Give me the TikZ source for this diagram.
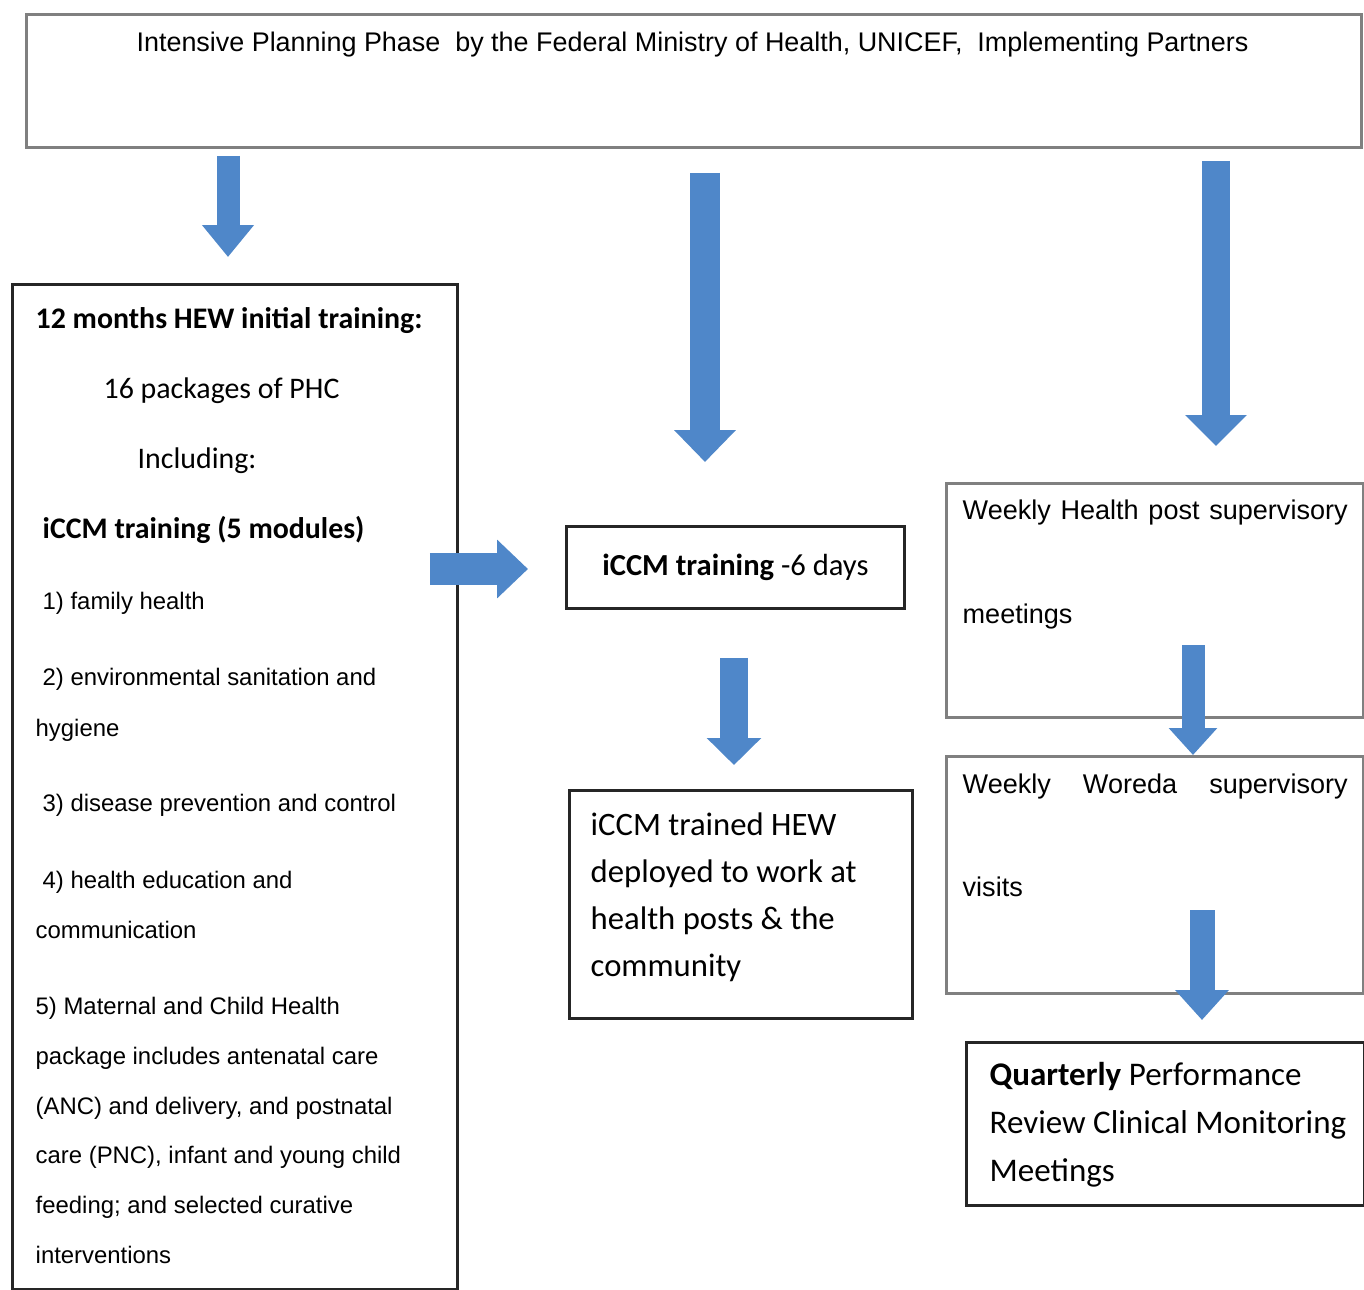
\documentclass[tikz,border=0pt]{standalone}
\usepackage{fontspec}
\setmainfont{Liberation Sans}
\newfontfamily\calib{Carlito}
\usetikzlibrary{arrows.meta,positioning}
\definecolor{arrowblue}{HTML}{4F87C9}
\definecolor{boxgray}{HTML}{808080}
\tikzset{
  graybox/.style={draw=boxgray, line width=0.8pt, inner sep=0pt, anchor=north west},
  blackbox/.style={draw=black!85, line width=0.8pt, inner sep=0pt, anchor=north west},
  fatarrow/.style n args={3}{draw=arrowblue, line width=#1, -{Triangle[width=#2,length=#3]}},
  arialtxt/.style={font=\fontsize{#1}{10pt}\selectfont, inner sep=0pt, anchor=base west, yshift=-0.8mm},
  caltxt/.style={font=\calib\fontsize{#1}{10pt}\selectfont, inner sep=0pt, anchor=base west, yshift=-1mm}
}
\begin{document}
\begin{tikzpicture}
  \path[fill=white, use as bounding box] (0,0) rectangle (13.64,-12.90);
  % Boxes
  \node[graybox, minimum width=13.35cm, minimum height=1.33cm] (plan) at (0.25,-0.13) {};
  \node[blackbox, minimum width=4.45cm, minimum height=10.05cm] (hew) at (0.11,-2.83) {};
  \node[blackbox, minimum width=3.38cm, minimum height=0.82cm,
        font=\calib\fontsize{8.7pt}{10pt}\selectfont] (six) at (5.65,-5.25) {\textbf{iCCM training} -6 days};
  \node[blackbox, minimum width=3.43cm, minimum height=2.28cm] (trained) at (5.68,-7.89) {};
  \node[graybox, minimum width=4.17cm, minimum height=2.34cm] (hp) at (9.45,-4.82) {};
  \node[graybox, minimum width=4.17cm, minimum height=2.37cm] (woreda) at (9.45,-7.55) {};
  \node[blackbox, minimum width=3.98cm, minimum height=1.63cm] (quarterly) at (9.65,-10.41) {};

  % Texts
  \node[font=\fontsize{7.66pt}{10pt}\selectfont, inner sep=0pt] (plantxt) at (6.925,-0.45)
    {Intensive Planning Phase\ \ by the Federal Ministry of Health, UNICEF,\ \ Implementing Partners};
  \node[caltxt=8.5pt] (hewhead) at (0.35,-3.18) {\textbf{12 months HEW initial training:}};
  \node[caltxt=8.5pt] (phc) at (1.03,-3.88) {16 packages of PHC};
  \node[caltxt=8.5pt] (incl) at (1.37,-4.58) {Including:};
  \node[caltxt=8.5pt] (modules) at (0.42,-5.28) {\textbf{iCCM training (5 modules)}};
  \foreach \y/\x/\t [count=\i] in {
      -6.01/0.42/{1) family health},
      -6.77/0.42/{2) environmental sanitation and},
      -7.28/0.35/{hygiene},
      -8.03/0.42/{3) disease prevention and control},
      -8.80/0.42/{4) health education and},
      -9.30/0.35/{communication},
      -10.06/0.35/{5) Maternal and Child Health},
      -10.56/0.35/{package includes antenatal care},
      -11.06/0.35/{(ANC) and delivery, and postnatal},
      -11.55/0.35/{care (PNC), infant and young child},
      -12.05/0.35/{feeding; and selected curative},
      -12.55/0.35/{interventions}}
    \node[arialtxt=6.8pt] (item\i) at (\x,\y) {\t};
  \node[font=\calib\fontsize{9.3pt}{13.4pt}\selectfont, align=left, inner sep=0pt, anchor=west] (trainedtxt) at (5.90,-8.97)
    {iCCM trained HEW\\deployed to work at\\health posts \& the\\community};
  \node[arialtxt=7.7pt] (hptxt) at (9.62,-5.11) {\makebox[3.85cm][s]{Weekly Health post supervisory}};
  \node[arialtxt=7.7pt] (hptxt2) at (9.62,-6.15) {meetings};
  \node[arialtxt=7.7pt] (woredatxt) at (9.62,-7.85) {\makebox[3.85cm][s]{Weekly Woreda supervisory}};
  \node[arialtxt=7.7pt] (woredatxt2) at (9.62,-8.88) {visits};
  \node[font=\calib\fontsize{9.4pt}{13.66pt}\selectfont, align=left, inner sep=0pt, anchor=west] (quarterlytxt) at (9.89,-11.25)
    {\textbf{Quarterly} Performance\\Review Clinical Monitoring\\Meetings};

  % Arrows
  \coordinate (c1) at (2.28,0);
  \coordinate (c2) at (7.05,0);
  \coordinate (c3) at (12.16,0);
  \coordinate (c4) at (7.34,0);
  \coordinate (r1) at (0,-5.69);
  \coordinate (hpout) at (11.93,-6.45);
  \coordinate (woredaout) at (12.02,-9.10);
  \draw[fatarrow={2.3mm}{5mm}{3.2mm}, shorten <=0.07cm, shorten >=0.26cm] (plan.south -| c1) -- (hew.north -| c1);
  \draw[fatarrow={3mm}{6mm}{3.2mm}, shorten <=0.24cm, shorten >=0.63cm] (plan.south -| c2) -- (six.north -| c2);
  \draw[fatarrow={2.8mm}{6mm}{3.1mm}, shorten <=0.12cm, shorten >=0.36cm] (plan.south -| c3) -- (hp.north -| c3);
  \draw[fatarrow={3.2mm}{5.7mm}{3.1mm}, shorten <=-0.29cm, shorten >=0.37cm] (hew.east |- r1) -- (six.west |- r1);
  \draw[fatarrow={2.8mm}{5.3mm}{2.7mm}, shorten <=0.48cm, shorten >=0.24cm] (six.south -| c4) -- (trained.north -| c4);
  \draw[fatarrow={2.3mm}{4.7mm}{2.7mm}] (hpout) -- (woreda.north -| hpout);
  \draw[fatarrow={2.5mm}{5.2mm}{3mm}, shorten >=0.21cm] (woredaout) -- (quarterly.north -| woredaout);
\end{tikzpicture}
\end{document}
